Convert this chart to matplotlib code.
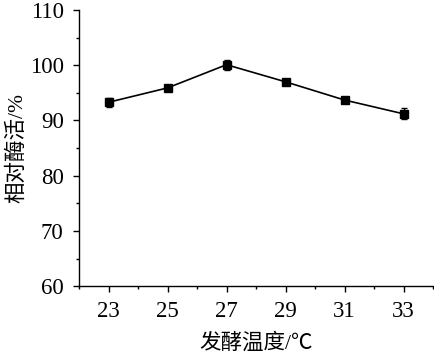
import matplotlib
matplotlib.use("Agg")
import matplotlib.pyplot as plt
from matplotlib.ticker import MultipleLocator

# fermentation temperature vs relative enzyme activity
temperature = [23, 25, 27, 29, 31, 33]
activity = [93.3, 95.9, 100.1, 97.0, 93.7, 91.2]
activity_err = [0.8, 0.5, 0.9, 0.6, 0.4, 1.0]

plt.rcParams['font.family'] = ['Liberation Serif', 'Noto Sans CJK SC']

fig = plt.figure(figsize=(4.34, 3.59), dpi=100)
ax = fig.add_axes([0.182, 0.203, 0.816, 0.769])

ax.errorbar(temperature, activity, yerr=activity_err, color='black',
            marker='s', markersize=5.5, linewidth=1.2, elinewidth=1.0,
            capsize=2.5, capthick=1.0)

ax.set_xlim(22, 34)
ax.set_ylim(60, 110)
ax.set_xticks(temperature)
ax.xaxis.set_minor_locator(MultipleLocator(1))
ax.yaxis.set_major_locator(MultipleLocator(10))
ax.yaxis.set_minor_locator(MultipleLocator(5))

for side in ['top', 'right']:
    ax.spines[side].set_visible(False)
for side in ['left', 'bottom']:
    ax.spines[side].set_linewidth(1.0)

ax.tick_params(which='major', direction='out', length=4, width=1.0,
               labelsize=16.5, pad=7)
ax.tick_params(which='minor', direction='out', length=2.5, width=1.0)

ax.set_xlabel('发酵温度/℃', fontsize=15.5, labelpad=8)
ax.set_ylabel('相对酶活/%', fontsize=15.5, labelpad=2)

fig.savefig('out.png', dpi=100)
